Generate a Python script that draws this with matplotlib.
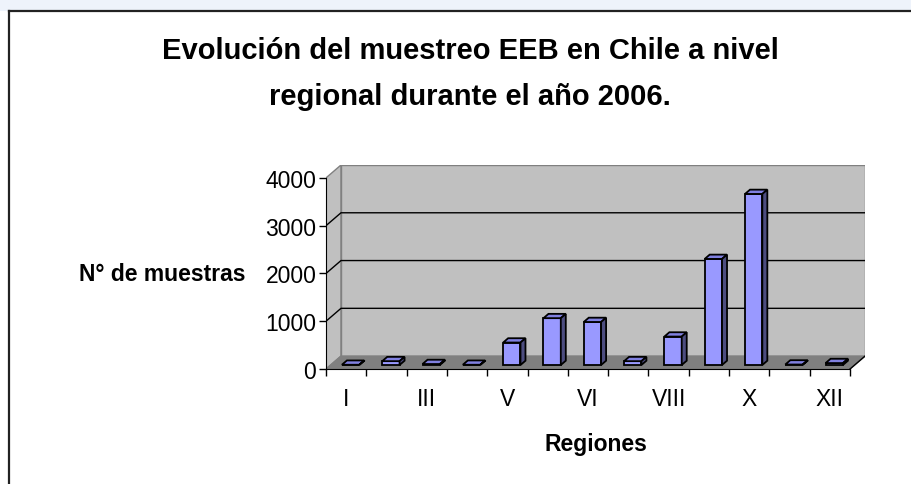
import matplotlib
matplotlib.use("Agg")
import matplotlib.pyplot as plt
from matplotlib.patches import Polygon, Rectangle
from matplotlib.lines import Line2D

plt.rcParams['font.family'] = ['Liberation Sans', 'DejaVu Sans']

# data
regiones = ['I', 'II', 'III', 'IV', 'V', 'RM', 'VI', 'VII', 'VIII', 'IX', 'X', 'XI', 'XII']
muestras = [5, 80, 20, 5, 470, 980, 900, 80, 595, 2220, 3580, 10, 40]
yticks = [0, 1000, 2000, 3000, 4000]

titulo = 'Evolución del muestreo EEB en Chile a nivel\nregional durante el año 2006.'
ylabel = 'N° de muestras'
xlabel = 'Regiones'

# pseudo 3d geometry (data units)
n = len(regiones)
DX, DY = 0.372, 270          # depth of the chart box
BOX, BOY = 0.11, 84          # bar offset into the box
BW, BDX, BDY = 0.43, 0.124, 90  # bar width and bar depth
ymax = 4000

W, H = 912, 485
fig = plt.figure(figsize=(W / 100, H / 100), dpi=100)
fig.patch.set_facecolor('white')

# faint strip and frame of the slide
fig.patches.append(Rectangle((0, 1 - 12 / H), 1, 12 / H, transform=fig.transFigure,
                             facecolor='#eef3fb', edgecolor='none'))
fig.lines.append(Line2D([9 / W, 9 / W], [0, 1 - 12 / H], transform=fig.transFigure,
                        color='#222222', lw=1.6))
fig.lines.append(Line2D([9 / W, 1], [1 - 12 / H, 1 - 12 / H], transform=fig.transFigure,
                        color='#222222', lw=1.6))

ax = fig.add_axes([326 / W, (H - 370) / H, 539 / W, 204 / H])
ax.set_xlim(-0.5, n - 0.5 + DX)
ax.set_ylim(0, ymax + DY)
ax.patch.set_visible(False)

x0, x1 = -0.5, n - 0.5
# walls
ax.add_patch(Polygon([(x0, 0), (x0 + DX, DY), (x0 + DX, ymax + DY), (x0, ymax)],
                     facecolor='#c0c0c0', edgecolor='#808080', lw=1, zorder=1))
ax.add_patch(Rectangle((x0 + DX, DY), x1 - x0, ymax, facecolor='#c0c0c0',
                       edgecolor='#808080', lw=1, zorder=1))
ax.add_patch(Polygon([(x0, 0), (x1, 0), (x1 + DX, DY), (x0 + DX, DY)],
                     facecolor='#808080', edgecolor='#808080', lw=1, zorder=1))
ax.plot([x1, x1 + DX], [0, DY], color='black', lw=1, zorder=2)

# gridlines
for v in yticks[1:-1]:
    ax.plot([x0, x0 + DX, x1 + DX], [v, v + DY, v + DY], color='black', lw=1, zorder=2)

# bars
pos = [i + BOX for i in range(n)]
ax.bar(pos, muestras, width=BW, bottom=BOY, color='#9999ff', edgecolor='black',
       lw=1.3, zorder=5)
for p, v in zip(pos, muestras):
    l, r, t = p - BW / 2, p + BW / 2, BOY + v
    ax.add_patch(Polygon([(l, t), (r, t), (r + BDX, t + BDY), (l + BDX, t + BDY)],
                         facecolor='#8080e0', edgecolor='black', lw=1.3, zorder=5))
    ax.add_patch(Polygon([(r, BOY), (r + BDX, BOY + BDY), (r + BDX, t + BDY), (r, t)],
                         facecolor='#4d4d80', edgecolor='black', lw=1.3, zorder=5))

# axes
for s in ['top', 'right']:
    ax.spines[s].set_visible(False)
ax.spines['left'].set_bounds(0, ymax)
ax.spines['bottom'].set_bounds(x0, x1)
ax.spines['left'].set_zorder(3)
ax.spines['bottom'].set_zorder(3)
ax.set_yticks(yticks)
ax.set_yticklabels([str(v) for v in yticks])
ax.set_xticks(range(n))
ax.set_xticklabels([r if i % 2 == 0 else '' for i, r in enumerate(regiones)])
ax.set_xticks([i - 0.5 for i in range(n + 1)], minor=True)
ax.tick_params(axis='x', which='major', length=0, pad=13, labelsize=16.5)
ax.tick_params(axis='x', which='minor', length=5, direction='out', width=1)
ax.tick_params(axis='y', length=5, direction='out', width=1, pad=2, labelsize=16.5)

ax.set_ylabel(ylabel, rotation=0, fontsize=16.5, fontweight='bold',
              ha='right', va='center')
ax.yaxis.set_label_coords(-0.149, 0.5 * ymax / (ymax + DY))
ax.set_xlabel(xlabel, fontsize=16.5, fontweight='bold', labelpad=16)

fig.text(470 / W, 1 - 74 / H, titulo, ha='center', va='center', fontsize=21,
         fontweight='bold', linespacing=1.85)

fig.savefig('out.png', dpi=100)
